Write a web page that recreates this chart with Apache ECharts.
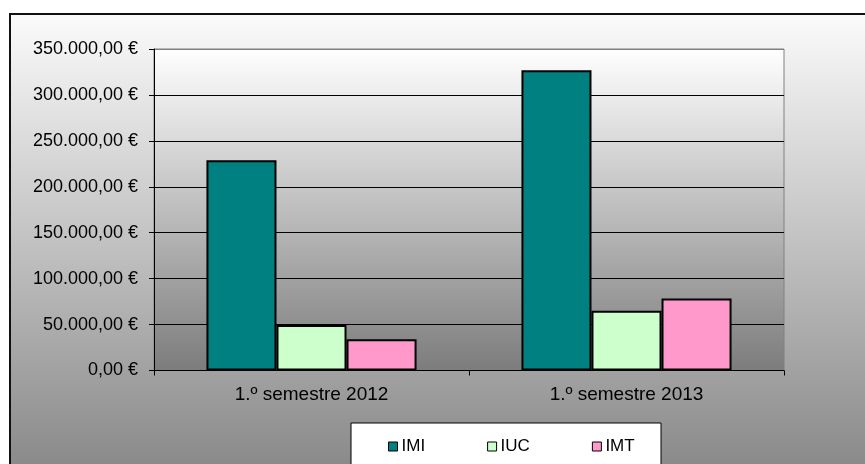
<!DOCTYPE html>
<html>
<head>
<meta charset="utf-8">
<script src="https://cdn.jsdelivr.net/npm/echarts@6/dist/echarts.min.js"></script>
<style>
  html, body { margin: 0; padding: 0; background: #fff; }
  #chart { width: 865px; height: 464px; }
</style>
</head>
<body>
<div id="chart"></div>
<script>
// dados
var categorias = ["1.º semestre 2012", "1.º semestre 2013"];
var nomesSeries = ["IMI", "IUC", "IMT"];
var valoresIMI = [229000, 327000];
var valoresIUC = [49500, 65000];
var valoresIMT = [34000, 78500];
var coresSeries = ["#008080", "#CCFFCC", "#FF99CC"];

function formatoEuro(v) {
  var s = String(Math.round(v)).replace(/\B(?=(\d{3})+(?!\d))/g, ".");
  return s + ",00 €";
}

var myChart = echarts.init(document.getElementById("chart"), null, { renderer: "canvas" });

var dadosSeries = [valoresIMI, valoresIUC, valoresIMT];
var series = nomesSeries.map(function (nome, i) {
  return {
    name: nome,
    type: "bar",
    data: dadosSeries[i],
    barGap: "0%",
    barCategoryGap: "33.3%",
    itemStyle: {
      color: coresSeries[i],
      borderColor: "#000",
      borderWidth: 2
    }
  };
});

var option = {
  animation: false,
  textStyle: { fontFamily: "Liberation Sans, Arial, sans-serif" },
  graphic: [
    {
      type: "rect",
      z: -10,
      shape: { x: 10, y: 14, width: 870, height: 470 },
      style: {
        fill: {
          type: "linear", x: 0, y: 0, x2: 0, y2: 1,
          colorStops: [
            { offset: 0, color: "#fbfbfb" },
            { offset: 1, color: "#858585" }
          ]
        },
        stroke: "#111",
        lineWidth: 2
      }
    },
    {
      type: "rect",
      z: 50,
      shape: { x: 351, y: 423, width: 310, height: 60 },
      style: { fill: "#fff", stroke: "#000", lineWidth: 1 }
    }
  ],
  grid: {
    left: 154,
    top: 49,
    right: 81,
    bottom: 93.5,
    show: true,
    borderColor: "#808080",
    borderWidth: 1,
    backgroundColor: {
      type: "linear", x: 0, y: 0, x2: 0, y2: 1,
      colorStops: [
        { offset: 0, color: "#ffffff" },
        { offset: 1, color: "#7c7c7c" }
      ]
    }
  },
  legend: {
    data: nomesSeries,
    left: 383,
    top: 433,
    z: 60,
    icon: "rect",
    itemWidth: 9,
    itemHeight: 9,
    itemGap: 62,
    textStyle: { fontSize: 17, color: "#000", padding: [0, 0, 0, -1] },
    itemStyle: { borderColor: "#000", borderWidth: 1 }
  },
  xAxis: {
    type: "category",
    data: categorias,
    axisLine: { lineStyle: { color: "#000", width: 1 } },
    axisTick: { show: true, length: 5, lineStyle: { color: "#000" } },
    axisLabel: { fontSize: 19, color: "#000", margin: 15 }
  },
  yAxis: {
    type: "value",
    min: 0,
    max: 350000,
    interval: 50000,
    axisLine: { show: true, lineStyle: { color: "#000", width: 1 } },
    axisTick: { show: true, length: 5, lineStyle: { color: "#000" } },
    axisLabel: { fontSize: 18, color: "#000", margin: 16, formatter: formatoEuro },
    splitLine: {
      show: true,
      lineStyle: { color: ["#000", "#000", "#000", "#000", "#000", "#000", "#000", "#808080"], width: 1 }
    }
  },
  series: series
};

myChart.setOption(option);
</script>
</body>
</html>
